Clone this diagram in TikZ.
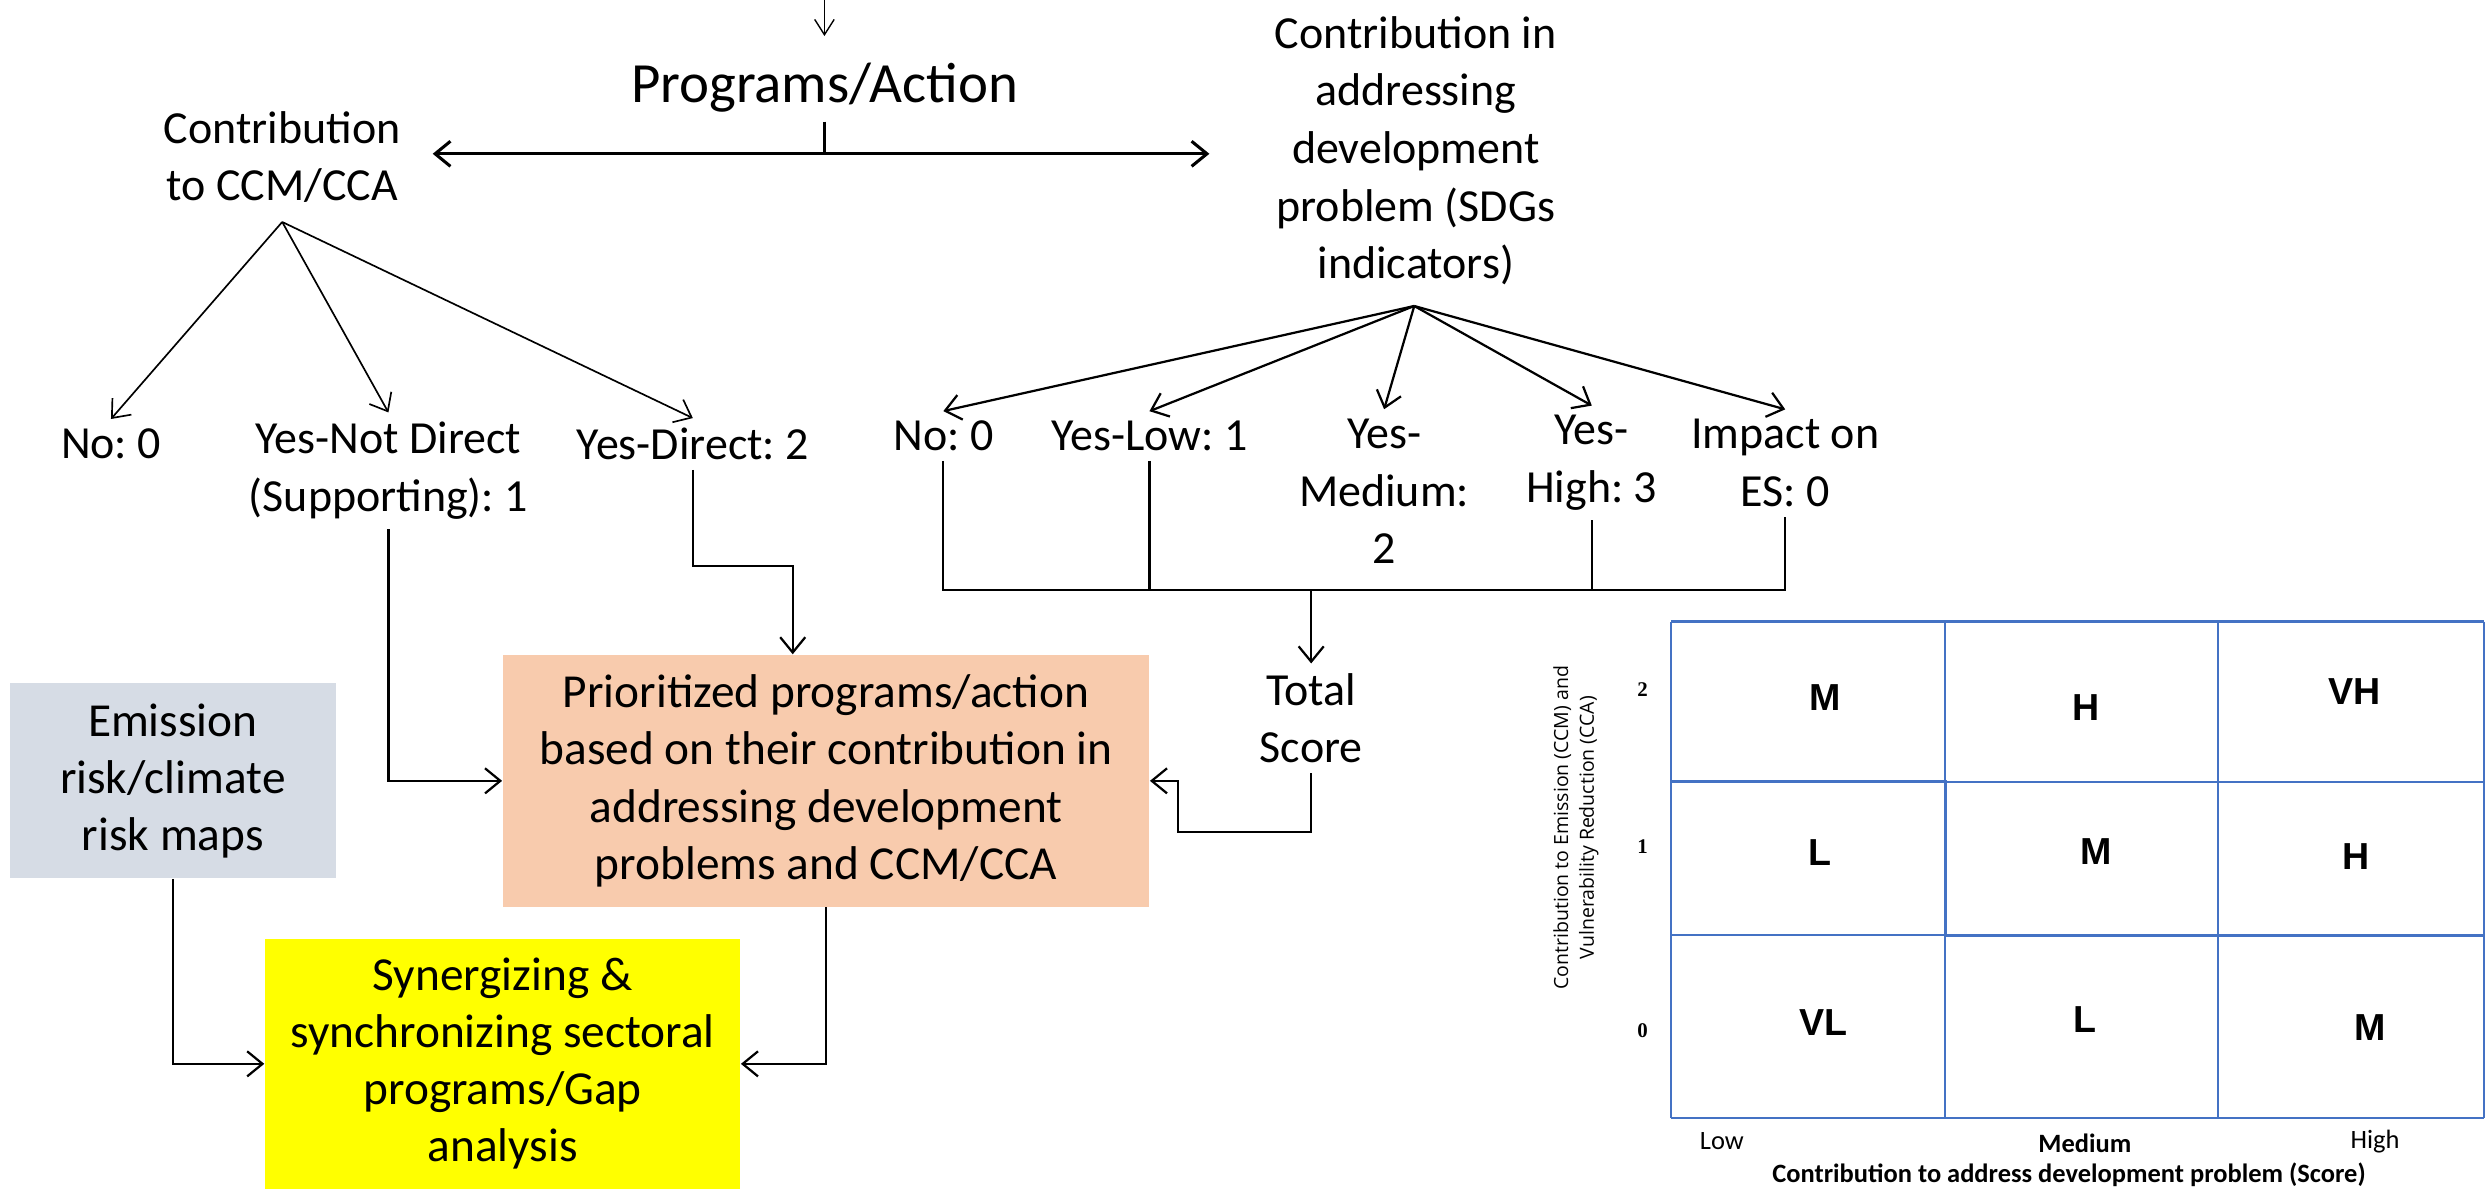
\documentclass[tikz,border=0pt]{standalone}
\usepackage{fontspec}
\setmainfont{Carlito}
\newfontfamily\axisfont{Open Sans}
\newfontfamily\cellfont{Liberation Sans}
\newfontfamily\tickfont{Liberation Serif}
\usetikzlibrary{arrows.meta}
\definecolor{boxgrey}{HTML}{D6DCE5}
\definecolor{boxorange}{HTML}{F8CBAD}
\definecolor{boxyellow}{HTML}{FFFF00}
\definecolor{gridblue}{HTML}{4472C4}
\frenchspacing
\begin{document}
\begin{tikzpicture}[x=0.02cm,y=-0.02cm,
  lbl/.style={align=center,font=\fontsize{16.5}{20.7}\selectfont},
  boxtxt/.style={align=center,font=\fontsize{17}{20.5}\selectfont,inner sep=0pt},
  conn/.style={line width=0.8pt},
  arr/.style={conn,-{Straight Barb[length=5.5pt,width=9pt]}},
  thinarr/.style={line width=0.5pt,-{Straight Barb[length=5.5pt,width=7pt]}},
  grid/.style={draw=gridblue,line width=0.75pt},
  cell/.style={font=\cellfont\bfseries\fontsize{13.5}{16}\selectfont},
  tick/.style={font=\tickfont\bfseries\fontsize{7.5}{9}\selectfont}]
\useasboundingbox (0,0) rectangle (1568,750);

% ---- programs and the two assessment branches
\node[lbl,font=\fontsize{20.4}{24}\selectfont] (prog) at (520,55) {Programs/Action};
\node[lbl] (ccm) at (178,99) {Contribution\\to CCM/CCA};
\node[lbl] (sdg) at (893,95) {Contribution in\\addressing\\development\\problem (SDGs\\indicators)};
\coordinate (topin) at (520,0);
\coordinate (split) at (520,97);
\coordinate (ccmB) at (178,140);
\coordinate (sdgB) at (892,193);

\draw[thinarr,shorten >=6pt] (topin) -- (prog.north);
\draw[conn] (prog.south) -- (split);
\draw[arr,line width=1.1pt,shorten >=8pt] (split) -- (split -| ccm.east);
\draw[arr,line width=1.1pt,shorten >=20pt] (split) -- (split -| sdg.west);

% ---- CCM/CCA scores
\node[lbl] (n0) at (70,280) {No: 0};
\node[lbl] (nd) at (245,297) {Yes-Not Direct\\(Supporting): 1};
\node[lbl] (yd) at (437,280) {Yes-Direct: 2};
\draw[arr,line width=0.6pt] (ccmB) -- (n0.north);
\draw[arr,line width=0.6pt] (ccmB) -- (nd.north);
\draw[arr,line width=0.6pt] (ccmB) -- (yd.north);

% ---- SDG scores
\node[lbl] (s0) at (595,275) {No: 0};
\node[lbl] (s1) at (725,275) {Yes-Low: 1};
\node[lbl] (s2) at (873,310) {Yes-\\Medium:\\2};
\node[lbl] (s3) at (1004,292) {Yes-\\High: 3};
\node[lbl] (s4) at (1126,292) {Impact on\\ES: 0};
\foreach \t in {s0,s1,s2,s3,s4}
  \draw[arr] (sdgB) -- (\t.north);

% ---- total score
\node[lbl] (total) at (827,453) {Total\\Score};
\coordinate (bus) at (827,372);
\draw[conn] (s0.south) -- (s0.south |- bus) -- (s4.south |- bus) -- (s4.south);
\draw[conn] (s1.south) -- (s1.south |- bus);
\draw[conn] (s3.south) -- (s3.south |- bus);
\draw[arr] (bus) -- (total.north);

% ---- boxes
\node[boxtxt,fill=boxorange,minimum width=8.16cm,minimum height=3.18cm] (prio) at (521,492.5)
  {Prioritized programs/action\\based on their contribution in\\addressing development\\problems and CCM/CCA};
\node[boxtxt,fill=boxgrey,minimum width=4.12cm,minimum height=2.46cm] (emis) at (109,492.5)
  {Emission\\risk/climate\\risk maps};
\node[boxtxt,fill=boxyellow,minimum width=6.0cm,minimum height=3.16cm] (syn) at (317,671)
  {Synergizing \&\\synchronizing sectoral\\programs/Gap\\analysis};

\coordinate (pj) at (500,357);
\coordinate (loopc) at (743,525);
\draw[arr] (nd.south) |- (prio.west);
\draw[arr] (yd.south) |- (pj) -- (pj |- prio.north);
\draw[arr] (total.south) |- (loopc) |- (prio.east);
\draw[arr] (emis.south) |- (syn.west);
\draw[arr] (prio.south) |- (syn.east);

% ---- priority matrix
\foreach \x in {1054,1227,1399,1567}
  \draw[grid] (\x,392) -- (\x,705);
\foreach \y in {392,493,590,705}
  \draw[grid] (1054,\y) -- (1567,\y);
\draw[grid,line width=1.3pt] (1054,493) -- (1227,493) -- (1227,590) -- (1567,590);
\node[cell] (c02) at (1151,440) {M};
\node[cell] (c12) at (1316,446) {H};
\node[cell] (c22) at (1485,436) {VH};
\node[cell] (c01) at (1148,538) {L};
\node[cell] (c11) at (1322,537) {M};
\node[cell] (c21) at (1486,540) {H};
\node[cell] (c00) at (1150,645) {VL};
\node[cell] (c10) at (1315,643) {L};
\node[cell] (c20) at (1495,648) {M};

\node[tick] (y2) at (1036,435) {2};
\node[tick] (y1) at (1036,534) {1};
\node[tick] (y0) at (1036,650) {0};
\node[font=\fontsize{9.5}{11}\selectfont] (xl) at (1086,720) {Low};
\node[font=\bfseries\fontsize{9.5}{11}\selectfont] (xm) at (1315,721) {Medium};
\node[font=\fontsize{9.5}{11}\selectfont] (xh) at (1498,720) {High};
\node[font=\bfseries\fontsize{9.5}{11}\selectfont,inner sep=0pt] (xt) at (1305,741) {Contribution to address development problem (Score)};
\node[rotate=90,align=center,inner sep=0pt,font=\axisfont\fontsize{7}{9.3}\selectfont] (yt) at (994,522)
  {Contribution to Emission (CCM) and\\Vulnerability Reduction (CCA)};
\end{tikzpicture}
\end{document}
